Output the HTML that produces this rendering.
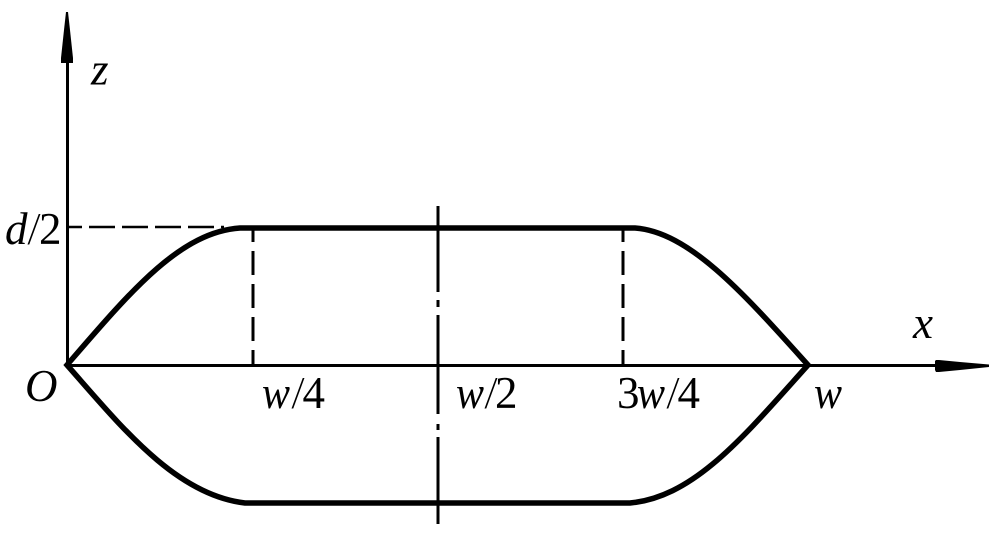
<!DOCTYPE html>
<html><head><meta charset="utf-8"><style>html,body{margin:0;padding:0;background:#fff}svg{display:block}text{font-family:"Liberation Serif",serif;fill:#000;font-size:45px}.i{font-style:italic}</style></head><body>
<svg width="1000" height="533" viewBox="0 0 1000 533" xmlns="http://www.w3.org/2000/svg">
<g fill="none" stroke="#000">
<path d="M67.5 60V365.5H940" stroke-width="3"/>
<path d="M68 227H224" stroke-width="2.6" stroke-dasharray="26 7" stroke-dashoffset="12"/>
<path d="M253 228V365" stroke-width="3" stroke-dasharray="24 9" stroke-dashoffset="10"/>
<path d="M623 228V365" stroke-width="3" stroke-dasharray="24 9" stroke-dashoffset="10"/>
<path d="M438 206V292M438 300V307M438 315V414M438 424V430M438 437V524" stroke-width="3"/>
<path d="M67 365C130 292 180 232 240 228H635C690 232 745 295 808 365C745 435 695 497 630 503H245C175 495 120 425 67 365Z" stroke-width="5.5" stroke-linejoin="miter"/>
</g>
<path d="M66 12H68L70 30L73 58V63H61V58L64 30Z" fill="#000"/>
<path d="M989 364.5V367L960 370L939 372H936L935 370V361L936 360H939L960 362Z" fill="#000"/>
<text class="i" x="91" y="84.500">z</text>
<text class="i" x="5" y="244">d</text>
<text class="i" x="29" y="244" textLength="9" lengthAdjust="spacingAndGlyphs">/</text>
<text x="39" y="244">2</text>
<text class="i" x="25" y="401">O</text>
<text class="i" x="262" y="408" textLength="28" lengthAdjust="spacingAndGlyphs">w</text>
<text class="i" x="293" y="408" textLength="9" lengthAdjust="spacingAndGlyphs">/</text>
<text x="302.500" y="408">4</text>
<text class="i" x="456" y="408" textLength="28" lengthAdjust="spacingAndGlyphs">w</text>
<text class="i" x="486" y="408" textLength="9" lengthAdjust="spacingAndGlyphs">/</text>
<text x="495" y="408">2</text>
<text x="617" y="408">3</text>
<text class="i" x="637" y="408" textLength="28" lengthAdjust="spacingAndGlyphs">w</text>
<text class="i" x="668" y="408" textLength="9" lengthAdjust="spacingAndGlyphs">/</text>
<text x="677.500" y="408">4</text>
<text class="i" x="814" y="408" textLength="28" lengthAdjust="spacingAndGlyphs">w</text>
<text class="i" x="913" y="338">x</text>
</svg>
</body></html>
